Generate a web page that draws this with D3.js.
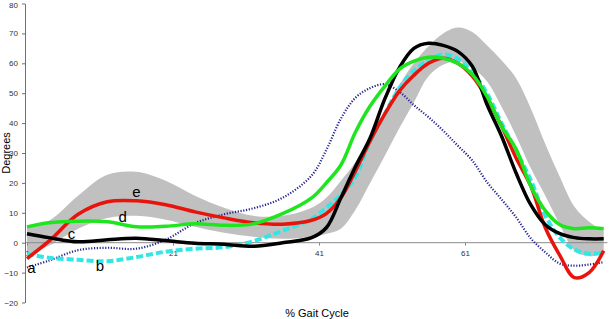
<!DOCTYPE html>
<html>
<head>
<meta charset="utf-8">
<script src="https://cdn.jsdelivr.net/npm/d3@7"></script>
<style>
  body { margin: 0; background: #fff; }
  svg { font-family: "Liberation Sans", Arial, sans-serif; }
</style>
</head>
<body>
<script>
// Set width, height
var w = 609;
var h = 319;

// % gait cycle positions
var gait = [1, 4, 8, 12, 16, 20, 24, 28, 32, 36, 40, 42, 44, 46, 48, 50, 52, 54, 56, 58, 60, 62, 64, 66, 68, 70, 72, 74, 76, 78, 80];

// normal band (upper / lower)
var bandUpper = [5, 7.3, 15.7, 22.7, 23.7, 20.7, 15.7, 11.7, 9, 9, 11.7, 15, 20.7, 27, 34.5, 43, 52.7, 60, 65.7, 70, 72, 70.5, 66, 61, 55, 45, 33, 22, 12, 7, 4];
var bandLower = [-4, -1, 4.7, 8.3, 9, 7.7, 5.3, 3.3, 2, 1.3, 2, 3, 4.7, 11, 20, 29, 38.3, 47, 55.7, 59.5, 60.7, 58.5, 54, 45.5, 35.7, 25, 15.7, 6, -2.7, -4.5, -3.7];

// subject curves
var lineA = [-8.3, -6, -2.5, -1.7, -2, 1, 6.5, 9.5, 11.5, 15, 22.5, 31, 41.5, 48.5, 51.7, 53, 50.5, 46, 42, 37.5, 32.5, 27.5, 20.3, 14.5, 8.5, 1.5, -3.2, -7, -7.7, -7.3, -6.5];
var lineB = [-3.7, -5, -5.7, -6.2, -4.8, -3, -2, -1.5, 0.5, 4, 8, 11.7, 16, 22, 34, 43, 51.7, 57.5, 61, 63, 61.5, 57, 50, 40, 30.7, 21, 9, 1.7, -2.3, -3.7, -3.3];
var lineC = [3, 1.7, 0.3, 1, 1.5, 0.7, -0.2, -0.5, -1.2, 0, 1.7, 5, 15, 25.5, 35, 48, 58.5, 65, 66.7, 66, 64, 59, 46.3, 35.7, 23.3, 12.7, 6, 3, 1.7, 1.3, 1.3];
var lineD = [5.3, 6.7, 7.2, 7, 5.3, 5.5, 6.3, 5.8, 6.3, 9.7, 15, 20, 26, 37, 45.7, 52.3, 58, 60.7, 62, 61.7, 60, 56.3, 49, 39, 31.3, 19, 10.7, 6, 4.7, 5, 4.7];
var lineE = [-5.3, 0.5, 9.5, 13.7, 14, 12.7, 10.3, 8.3, 6.7, 6.2, 7.5, 9.7, 15, 24, 34, 43, 50.7, 56, 60, 61.7, 60, 55.7, 48.3, 39, 28.3, 19, 5, -4.3, -11.7, -10, -2.7];

var yTicks = [-20, -10, 0, 10, 20, 30, 40, 50, 60, 70, 80];
var xTicks = [1, 21, 41, 61];

// curve labels: [text, gait position, degrees]
var curveLabels = [["a", 1.6, -10.3], ["b", 11, -9.3], ["c", 7.1, 1.2], ["d", 14.1, 7], ["e", 16, 15.3]];

// Create Scale
var xScale = d3.scaleLinear().domain([1, 81]).range([27, 611]);
var yScale = d3.scaleLinear().domain([-20, 80]).range([302.5, 3.5]);

var svg = d3.select("body").append("svg")
    .attr("width", w)
    .attr("height", h);

// gray band
var band = d3.area()
    .x(function(d, i) { return xScale(gait[i]); })
    .y0(function(d, i) { return yScale(bandLower[i]); })
    .y1(function(d, i) { return yScale(bandUpper[i]); })
    .curve(d3.curveCatmullRom);

svg.append("path")
   .datum(gait)
   .attr("d", band)
   .attr("fill", "#c0c0c0");

// zero line (x axis)
svg.append("line")
   .attr("x1", xScale(0.73)).attr("x2", xScale(80.5))
   .attr("y1", yScale(0)).attr("y2", yScale(0))
   .attr("stroke", "#8a8a8a").attr("stroke-width", 1);

var xAxis = d3.axisBottom(xScale)
    .tickValues(xTicks)
    .tickSize(3)
    .tickSizeOuter(0);

var gx = svg.append("g")
   .attr("transform", "translate(0," + yScale(0) + ")")
   .call(xAxis);
gx.select(".domain").remove();
gx.selectAll("line").attr("stroke", "#8a8a8a");
gx.selectAll("text").attr("font-size", "8px").attr("fill", "#333").attr("dy", "0.9em");

// Y axis
var yAxis = d3.axisLeft(yScale)
    .tickValues(yTicks)
    .tickSize(3)
    .tickSizeOuter(0);

var gy = svg.append("g")
   .attr("transform", "translate(" + (xScale(1) - 2) + ",0)")
   .call(yAxis);
gy.select(".domain").attr("stroke", "#707070");
gy.selectAll("line").attr("stroke", "#707070");
gy.selectAll("text").attr("font-size", "8px").attr("fill", "#333").attr("dx", "-1")
  .attr("dy", function(d) { return d === 80 ? "0.45em" : "0.32em"; });

// lines
var line = function(vals) {
  return d3.line()
    .x(function(d, i) { return xScale(gait[i]); })
    .y(function(d) { return yScale(d); })
    .curve(d3.curveCatmullRom)(vals);
};

svg.append("path").attr("d", line(lineA))
   .attr("fill", "none").attr("stroke", "#24248f")
   .attr("stroke-width", 2.2).attr("stroke-dasharray", "1.2,1.6");

svg.append("path").attr("d", line(lineB))
   .attr("fill", "none").attr("stroke", "#33e6e6")
   .attr("stroke-width", 4).attr("stroke-dasharray", "7,3");

svg.append("path").attr("d", line(lineE))
   .attr("fill", "none").attr("stroke", "#e8140c")
   .attr("stroke-width", 3.5);

svg.append("path").attr("d", line(lineC))
   .attr("fill", "none").attr("stroke", "#000")
   .attr("stroke-width", 3.5);

svg.append("path").attr("d", line(lineD))
   .attr("fill", "none").attr("stroke", "#1ee61e")
   .attr("stroke-width", 3.5);

// curve letters
svg.selectAll(".lbl")
   .data(curveLabels)
   .enter()
   .append("text")
   .attr("class", "lbl")
   .attr("x", function(d) { return xScale(d[1]); })
   .attr("y", function(d) { return yScale(d[2]); })
   .attr("text-anchor", "middle")
   .attr("font-size", "15px")
   .text(function(d) { return d[0]; });

// axis titles
svg.append("text")
   .attr("x", 317).attr("y", 317)
   .attr("text-anchor", "middle")
   .attr("font-size", "11px")
   .text("% Gait Cycle");

svg.append("text")
   .attr("transform", "translate(10," + yScale(30) + ") rotate(-90)")
   .attr("text-anchor", "middle")
   .attr("font-size", "11px")
   .text("Degrees");
</script>
</body>
</html>
